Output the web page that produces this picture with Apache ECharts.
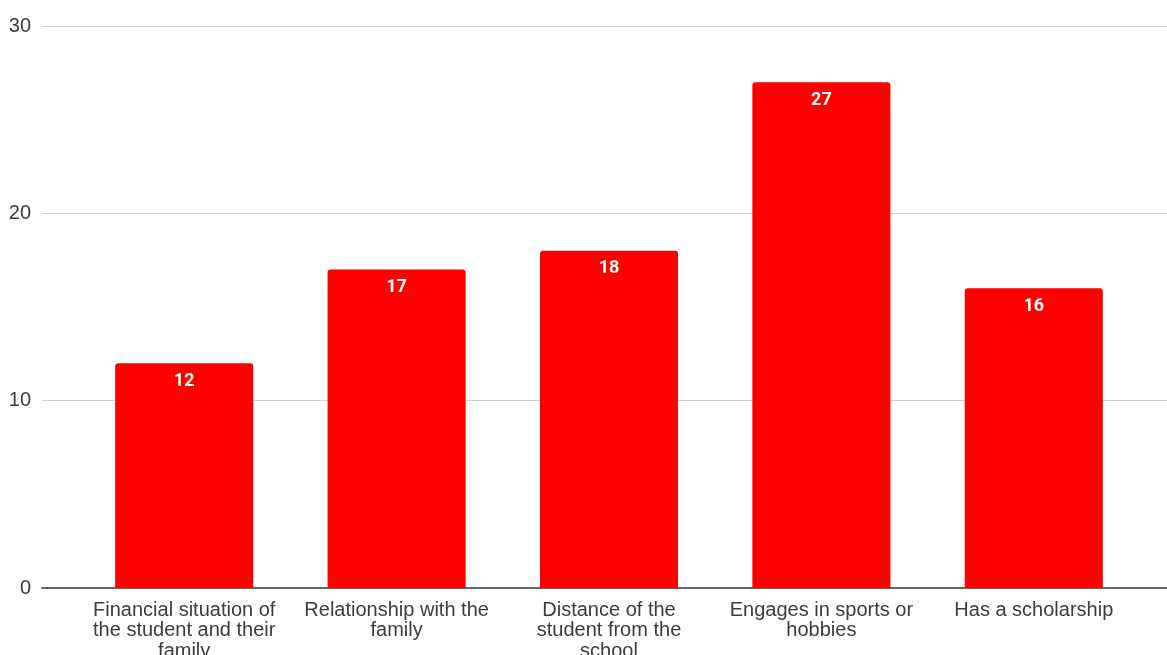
<!DOCTYPE html>
<html><head><meta charset="utf-8">
<script src="https://cdn.jsdelivr.net/npm/echarts@6/dist/echarts.min.js"></script>
<style>html,body{margin:0;padding:0;background:#fff}#c{width:1167px;height:655px}</style>
</head><body><div id="c"></div>
<script>
const categories = [
  "Financial situation of\nthe student and their\nfamily",
  "Relationship with the\nfamily",
  "Distance of the\nstudent from the\nschool",
  "Engages in sports or\nhobbies",
  "Has a scholarship"
];
const values = [12, 17, 18, 27, 16];
const yTicks = { min: 0, max: 30, interval: 10 };

const font = 'Liberation Sans, Arial, sans-serif';
const chart = echarts.init(document.getElementById('c'), null, { renderer: 'canvas' });
chart.setOption({
  animation: false,
  grid: [
    { left: 42, right: 0, top: 26, bottom: 67, containLabel: false, outerBoundsMode: 'none' },
    { left: 78, right: 27, top: 26, bottom: 67, containLabel: false, outerBoundsMode: 'none' }
  ],
  xAxis: [
    {
      gridIndex: 0, type: 'value', min: 0, max: 1,
      axisLabel: { show: false }, axisTick: { show: false }, splitLine: { show: false },
      axisLine: { show: true, lineStyle: { color: '#666', width: 2 } }
    },
    {
      gridIndex: 1, type: 'category', data: categories,
      axisTick: { show: false }, axisLine: { show: false },
      axisLabel: {
        interval: 0, margin: 12, color: '#3c3c3c',
        fontFamily: font, fontSize: 20, lineHeight: 20.5
      }
    }
  ],
  yAxis: [
    {
      gridIndex: 0, type: 'value', min: yTicks.min, max: yTicks.max, interval: yTicks.interval,
      axisLine: { show: false }, axisTick: { show: false },
      splitLine: { lineStyle: { color: '#cfcfcf', width: 1 } },
      axisLabel: { margin: 11, color: '#3c3c3c', fontFamily: font, fontSize: 20 }
    },
    {
      gridIndex: 1, type: 'value', min: yTicks.min, max: yTicks.max, interval: yTicks.interval,
      show: false
    }
  ],
  series: [{
    type: 'bar',
    xAxisIndex: 1, yAxisIndex: 1,
    data: values,
    barWidth: '65%',
    itemStyle: { color: '#ff0000', borderRadius: [3, 3, 0, 0] },
    label: {
      show: true, position: 'insideTop', distance: 9,
      color: '#fff', fontWeight: 'bold', fontFamily: 'Roboto, sans-serif', fontSize: 18
    }
  }]
});
</script></body></html>
